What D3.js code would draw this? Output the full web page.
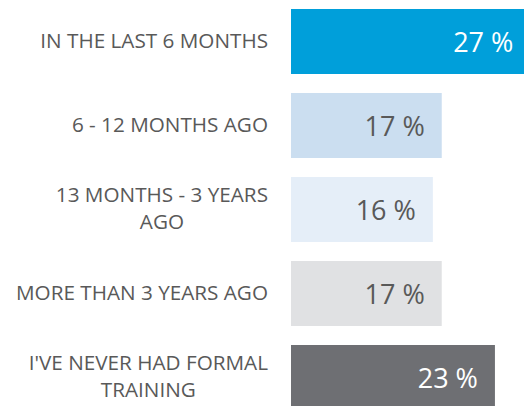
<!DOCTYPE html>
<html>
<head>
<meta charset="utf-8">
<script src="https://cdn.jsdelivr.net/npm/d3@7"></script>
<style>
  html, body { margin: 0; padding: 0; background: #fff; }
  svg { display: block; font-family: 'Open Sans', sans-serif; }
</style>
</head>
<body>
<div id="chart"></div>
<script>
// Chart data
const categories = [
  'IN THE LAST 6 MONTHS',
  '6 - 12 MONTHS AGO',
  '13 MONTHS - 3 YEARS\nAGO',
  'MORE THAN 3 YEARS AGO',
  "I'VE NEVER HAD FORMAL\nTRAINING"
];
const values = [27, 17, 16, 17, 23];
const barColors = ['#009fda', '#cbdef0', '#e5eef8', '#e0e1e3', '#6e6f73'];
const valueColors = ['#ffffff', '#595959', '#595959', '#595959', '#ffffff'];

const width = 524;
const height = 406;

const svg = d3.select('#chart')
  .append('svg')
  .attr('width', width)
  .attr('height', height);

// Scales
const x = d3.scaleLinear()
  .domain([0, 30])
  .range([291, 291 + 266]);

const y = d3.scaleBand()
  .domain(categories)
  .range([9, 410])
  .paddingInner(19 / 84)
  .paddingOuter(0);

const rows = categories.map((c, i) => ({ cat: c, value: values[i], i }));

// Bars
svg.selectAll('rect.bar')
  .data(rows)
  .join('rect')
  .attr('class', 'bar')
  .attr('x', x(0))
  .attr('y', d => y(d.cat))
  .attr('width', d => x(d.value) - x(0))
  .attr('height', y.bandwidth())
  .attr('fill', d => barColors[d.i]);

// Value labels inside bar ends
svg.selectAll('text.value')
  .data(rows)
  .join('text')
  .attr('class', 'value')
  .attr('x', d => x(d.value) - 17)
  .attr('y', d => y(d.cat) + y.bandwidth() / 2 + 10)
  .attr('text-anchor', 'end')
  .attr('font-size', '27px')
  .attr('fill', d => valueColors[d.i])
  .text(d => d.value + ' %');

// Category labels (multi-line ones are centred within their block)
const labelSize = 20.7;
const lineHeight = 26.5;

rows.forEach(d => {
  const lines = d.cat.split('\n');
  const cy = y(d.cat) + y.bandwidth() / 2;
  const firstBase = cy + 6 - (lines.length - 1) * lineHeight / 2;

  const t = svg.append('text')
    .attr('font-size', labelSize + 'px')
    .attr('fill', '#595959');

  t.selectAll('tspan')
    .data(lines)
    .join('tspan')
    .attr('y', (l, j) => firstBase + j * lineHeight)
    .text(l => l);

  if (lines.length === 1) {
    t.attr('text-anchor', 'end').selectAll('tspan').attr('x', 268);
  } else {
    // measure longest line, centre all lines on it, right edge at 268
    const w = d3.max(t.selectAll('tspan').nodes(), n => n.getComputedTextLength());
    t.attr('text-anchor', 'middle').selectAll('tspan').attr('x', 268 - w / 2);
  }
});
</script>
</body>
</html>
